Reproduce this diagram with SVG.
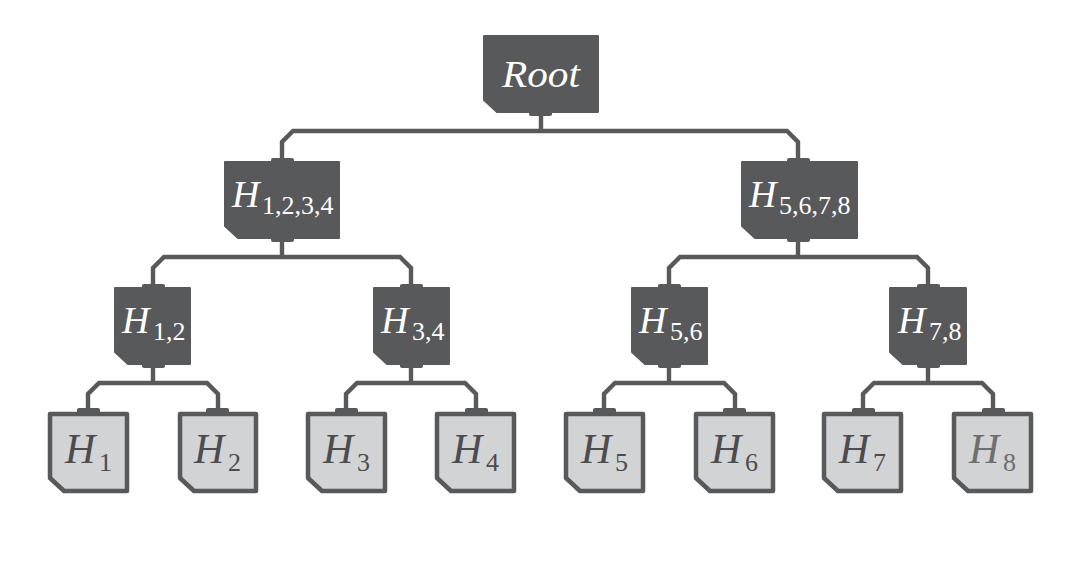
<svg xmlns="http://www.w3.org/2000/svg" width="1080" height="567" viewBox="0 0 1080 567">
<style>
text{font-family:"Liberation Serif","Times New Roman",serif}
.m{font-style:italic;font-size:38px}
.s{font-size:26px;font-style:normal}
.b{font-size:42px}
.d{fill:#58595b;stroke:#58595b;stroke-width:2;stroke-linejoin:round}
.l{fill:#d1d3d4;stroke:#58595b;stroke-width:4.5;stroke-linejoin:round}
.t{fill:#58595b}
.dt{fill:#fff}
.lt{fill:#4b4c4e}
#connectors path{fill:none;stroke:#58595b;stroke-width:4.4}
</style>
<rect width="1080" height="567" fill="#fff"/>
<g id="connectors">
<path d="M541 113V131M282 160V142L293 131H787L798 142V160"/>
<path d="M282 239V257M153 286V268L164 257H400L411 268V286"/>
<path d="M798 239V257M669 286V268L680 257H917L928 268V286"/>
<path d="M153 365V383M88 411V394L99 383H207L218 394V411"/>
<path d="M411 365V383M346 411V394L357 383H465L476 394V411"/>
<path d="M669 365V383M604 411V394L615 383H724L735 394V411"/>
<path d="M928 365V383M863 411V394L874 383H982L993 394V411"/>
</g>
<g id="root"><path class="d" d="M484 36H598V112H497L484 100Z"/><rect class="t" x="529" y="110" width="23" height="6" rx="2"/><text class="m dt" x="502" y="87" textLength="78" lengthAdjust="spacingAndGlyphs">Root</text></g>
<g id="h1234"><path class="d" d="M225 162H339V238H238L225 226Z"/><rect class="t" x="271" y="158" width="23" height="6" rx="2"/><rect class="t" x="271" y="236" width="23" height="6" rx="2"/><text class="m dt" x="232" y="207">H</text><text class="s dt" x="262" y="214">1,2,3,4</text></g>
<g id="h5678"><path class="d" d="M742 162H857V238H755L742 226Z"/><rect class="t" x="787" y="158" width="23" height="6" rx="2"/><rect class="t" x="787" y="236" width="23" height="6" rx="2"/><text class="m dt" x="749" y="207">H</text><text class="s dt" x="779" y="214">5,6,7,8</text></g>
<g id="h12"><path class="d" d="M115 288H190V364H128L115 352Z"/><rect class="t" x="142" y="284" width="23" height="6" rx="2"/><rect class="t" x="142" y="362" width="23" height="6" rx="2"/><text class="m dt" x="122" y="333">H</text><text class="s dt" x="153" y="340">1,2</text></g>
<g id="h34"><path class="d" d="M374 288H449V364H387L374 352Z"/><rect class="t" x="400" y="284" width="23" height="6" rx="2"/><rect class="t" x="400" y="362" width="23" height="6" rx="2"/><text class="m dt" x="381" y="333">H</text><text class="s dt" x="412" y="340">3,4</text></g>
<g id="h56"><path class="d" d="M632 288H707V364H645L632 352Z"/><rect class="t" x="658" y="284" width="23" height="6" rx="2"/><rect class="t" x="658" y="362" width="23" height="6" rx="2"/><text class="m dt" x="639" y="333">H</text><text class="s dt" x="670" y="340">5,6</text></g>
<g id="h78"><path class="d" d="M890 288H966V364H903L890 352Z"/><rect class="t" x="917" y="284" width="23" height="6" rx="2"/><rect class="t" x="917" y="362" width="23" height="6" rx="2"/><text class="m dt" x="898" y="333">H</text><text class="s dt" x="929" y="340">7,8</text></g>
<g id="h1"><path class="l" d="M50 414H127V491H64L50 478Z"/><rect class="t" x="77" y="408" width="23" height="6" rx="2"/><text class="m b lt" x="65" y="463">H</text><text class="s lt" x="99" y="471">1</text></g>
<g id="h2"><path class="l" d="M180 414H256V491H194L180 478Z"/><rect class="t" x="206" y="408" width="23" height="6" rx="2"/><text class="m b lt" x="194" y="463">H</text><text class="s lt" x="228" y="471">2</text></g>
<g id="h3"><path class="l" d="M308 414H385V491H322L308 478Z"/><rect class="t" x="335" y="408" width="23" height="6" rx="2"/><text class="m b lt" x="323" y="463">H</text><text class="s lt" x="357" y="471">3</text></g>
<g id="h4"><path class="l" d="M437 414H514V491H451L437 478Z"/><rect class="t" x="465" y="408" width="23" height="6" rx="2"/><text class="m b lt" x="452" y="463">H</text><text class="s lt" x="486" y="471">4</text></g>
<g id="h5"><path class="l" d="M566 414H643V491H580L566 478Z"/><rect class="t" x="593" y="408" width="23" height="6" rx="2"/><text class="m b lt" x="581" y="463">H</text><text class="s lt" x="615" y="471">5</text></g>
<g id="h6"><path class="l" d="M696 414H773V491H710L696 478Z"/><rect class="t" x="723" y="408" width="23" height="6" rx="2"/><text class="m b lt" x="711" y="463">H</text><text class="s lt" x="745" y="471">6</text></g>
<g id="h7"><path class="l" d="M824 414H901V491H838L824 478Z"/><rect class="t" x="852" y="408" width="23" height="6" rx="2"/><text class="m b lt" x="839" y="463">H</text><text class="s lt" x="873" y="471">7</text></g>
<g id="h8"><path class="l" d="M954 414H1031V491H968L954 478Z"/><rect class="t" x="982" y="408" width="23" height="6" rx="2"/><text class="m b" fill="#6d6e71" x="969" y="463">H</text><text class="s" fill="#6d6e71" x="1003" y="471">8</text></g>
</svg>
